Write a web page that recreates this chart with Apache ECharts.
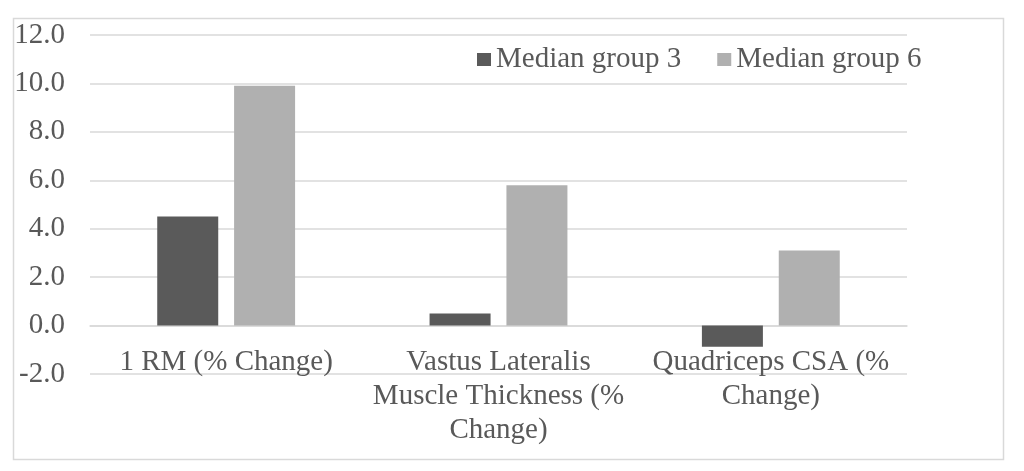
<!DOCTYPE html>
<html>
<head>
<meta charset="utf-8">
<script src="https://cdn.jsdelivr.net/npm/echarts@6/dist/echarts.min.js"></script>
<style>
html,body{margin:0;padding:0;background:#fff;}
#chart{width:1024px;height:471px;}
</style>
</head>
<body>
<div id="chart"></div>
<script>
const categories = ['1 RM (% Change)', 'Vastus Lateralis\nMuscle Thickness (%\nChange)', 'Quadriceps CSA (%\nChange)'];
const seriesNames = ['Median group 3', 'Median group 6'];
const group3 = [4.5, 0.5, -0.87];
const group6 = [9.9, 5.8, 3.1];
const yMin = -2, yMax = 12, yStep = 2;

const textColor = '#595959';
const font = 'Liberation Serif';
const chart = echarts.init(document.getElementById('chart'), null, {renderer: 'canvas'});
chart.setOption({
  backgroundColor: '#ffffff',
  animation: false,
  graphic: [{
    type: 'rect', left: 11, top: 16,
    shape: {width: 990, height: 441},
    style: {fill: 'none', stroke: '#d9d9d9', lineWidth: 1.5},
    silent: true
  }],
  legend: {
    left: 472, top: 40,
    icon: 'rect', itemWidth: 14, itemHeight: 13, itemGap: 36,
    textStyle: {fontFamily: font, fontSize: 29, color: textColor},
    data: seriesNames
  },
  grid: {left: 90, right: 117, top: 35, bottom: 97, containLabel: false, outerBoundsMode: 'none'},
  xAxis: {
    type: 'category',
    data: categories,
    axisLine: {show: true, onZero: true, lineStyle: {color: '#d9d9d9', width: 1.5}},
    axisTick: {show: false},
    axisLabel: {fontFamily: font, fontSize: 29, color: textColor, margin: -29, lineHeight: 34, interval: 0}
  },
  yAxis: {
    type: 'value', min: yMin, max: yMax, interval: yStep,
    axisLine: {show: false}, axisTick: {show: false},
    axisLabel: {fontFamily: font, fontSize: 29, color: textColor, margin: 25, formatter: v => v.toFixed(1)},
    splitLine: {lineStyle: {color: '#d9d9d9', width: 1.5}}
  },
  series: [
    {name: seriesNames[0], type: 'bar', data: group3, barWidth: 61, barGap: '26%', itemStyle: {color: '#5a5a5a'}},
    {name: seriesNames[1], type: 'bar', data: group6, barWidth: 61, barGap: '26%', itemStyle: {color: '#b0b0b0'}}
  ]
});
</script>
</body>
</html>
